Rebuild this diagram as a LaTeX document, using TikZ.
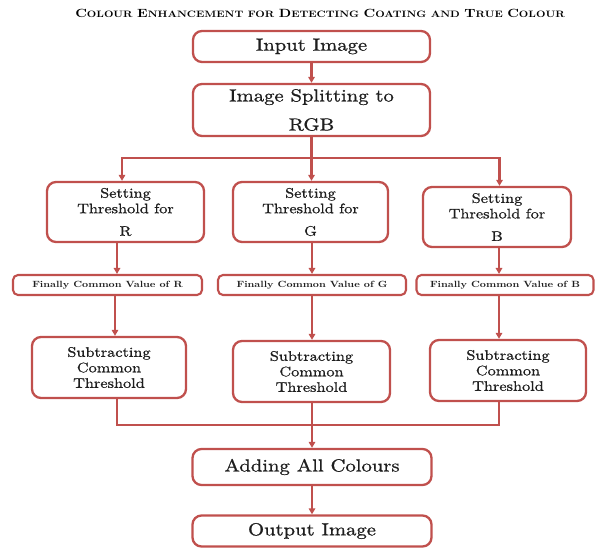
\documentclass[tikz,border=0pt]{standalone}
\usepackage{fontspec}
\newfontfamily\bodyfont{lmroman10-regular.otf}[FakeStretch=1.18, FakeBold=0.9]
\newfontfamily\heavyfont{lmroman10-bold.otf}[FakeStretch=1.18]
\usetikzlibrary{arrows.meta}
\definecolor{accent}{RGB}{192,80,77}
\definecolor{textc}{RGB}{30,30,30}
\newcommand\fbig{\bodyfont\fontsize{17.5}{29}\selectfont}
\newcommand\fmid{\bodyfont\fontsize{13.8}{15.5}\selectfont}
\newcommand\fsmall{\heavyfont\fontsize{9}{10}\selectfont}
\newcommand\tsc[2]{{\fontsize{11.9}{12}\selectfont #1}{\fontsize{9.3}{12}\selectfont #2}}
\newcommand\tsm[1]{{\fontsize{9.3}{12}\selectfont #1}}
\begin{document}
\begin{tikzpicture}[x=1pt,y=-1pt,
  box/.style={draw=accent, line width=2.3pt, rounded corners=9pt, inner sep=0pt,
    align=center, text=textc},
  finbox/.style={draw=accent, line width=2.1pt, rounded corners=5pt, inner sep=0pt,
    align=center, text=textc, font=\fsmall, minimum height=20pt},
  ln/.style={draw=accent, line width=2.2pt, line cap=rect},
  arr/.style={draw=accent, line width=2.2pt, -{Triangle[length=6pt,width=6.5pt]}}]
\useasboundingbox (0,0) rectangle (596,548);

% title
\node[anchor=base, font=\heavyfont, text=black] (title) at (320,17.5)
  {\tsc{C}{OLOUR} \tsc{E}{NHANCEMENT} \tsm{FOR} \tsc{D}{ETECTING} \tsc{C}{OATING} \tsm{AND} \tsc{T}{RUE} \tsc{C}{OLOUR}};

% main boxes
\node[box, minimum width=237pt, minimum height=31pt, font=\fbig] (in) at (311.5,46.5) {Input Image};
\node[box, minimum width=237pt, minimum height=52pt, font=\fbig] (split) at (311.5,110) {Image Splitting to\\RGB};

\node[box, minimum width=157pt, minimum height=60pt, font=\fmid] (setR) at (125.5,212) {Setting\\Threshold for\\[7pt]R};
\node[box, minimum width=155pt, minimum height=60pt, font=\fmid] (setG) at (310.5,212) {Setting\\Threshold for\\[7pt]G};
\node[box, minimum width=148pt, minimum height=60pt, font=\fmid] (setB) at (497,217) {Setting\\Threshold for\\[7pt]B};

\node[finbox, minimum width=189pt] (finR) at (107.5,285) {Finally Common Value of R};
\node[finbox, minimum width=188pt] (finG) at (312,285) {Finally Common Value of G};
\node[finbox, minimum width=177pt] (finB) at (505,285) {Finally Common Value of B};

\node[box, minimum width=154pt, minimum height=61pt, font=\fmid] (subR) at (109,367.5) {Subtracting\\Common\\Threshold};
\node[box, minimum width=157pt, minimum height=61pt, font=\fmid] (subG) at (311.5,371.5) {Subtracting\\Common\\Threshold};
\node[box, minimum width=156pt, minimum height=61pt, font=\fmid] (subB) at (508,370.5) {Subtracting\\Common\\Threshold};

\node[box, minimum width=239pt, minimum height=36pt, font=\fbig] (add) at (312,467) {Adding All Colours};
\node[box, minimum width=239pt, minimum height=31pt, font=\fbig] (out) at (312,531) {Output Image};

% reference coordinates
\coordinate (jt) at (311.5,158);
\coordinate (tR) at (122,0);
\coordinate (tB) at (499.5,0);
\coordinate (xR) at (117,0);
\coordinate (yR) at (115,0);
\coordinate (xG) at (312,0);
\coordinate (xB) at (499,0);
\coordinate (bj) at (312,425);

% connectors
\draw[arr] (in) -- (split);
\draw[ln] (split.south) -- (jt);
\draw[arr] (jt) -| (tR |- setR.north);
\draw[arr] (jt) -| (tB |- setB.north);
\draw[arr] (jt) -- (jt |- setG.north);

\draw[arr] (xR |- setR.south) -- (xR |- finR.north);
\draw[arr] (xG |- setG.south) -- (xG |- finG.north);
\draw[arr] (xB |- setB.south) -- (xB |- finB.north);

\draw[arr] (yR |- finR.south) -- (yR |- subR.north);
\draw[arr] (xG |- finG.south) -- (xG |- subG.north);
\draw[arr] (xB |- finB.south) -- (xB |- subB.north);

\draw[ln] (xR |- subR.south) |- (bj);
\draw[ln] (xB |- subB.south) |- (bj);
\draw[arr] (xG |- subG.south) -- (xG |- add.north);

\draw[arr] (add) -- (out);
\end{tikzpicture}
\end{document}
